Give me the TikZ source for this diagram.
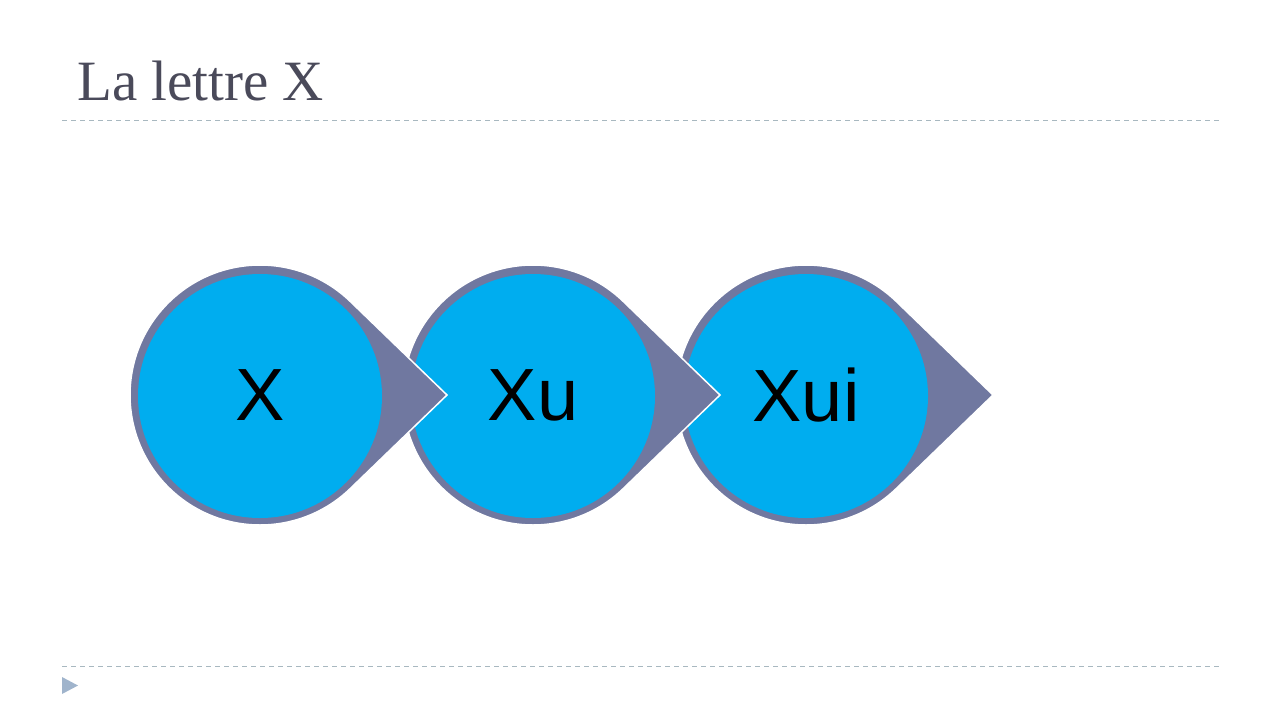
\documentclass[tikz,border=0pt]{standalone}
\usepackage{fontspec}
\setmainfont{Liberation Serif}
\setsansfont{Liberation Sans}
\definecolor{dropgrey}{HTML}{7078A0}
\definecolor{dropblue}{HTML}{00ADEF}
\definecolor{rulegrey}{HTML}{A8B8C0}
\definecolor{titlegrey}{HTML}{4A4A5A}
\definecolor{markblue}{HTML}{A0B4CC}
\tikzset{
  drop/.style={fill=dropgrey,draw=white,line width=1.5pt},
  inner/.style={fill=dropblue},
  word/.style={font=\sffamily\fontsize{74}{74}\selectfont,text=black},
  rule/.style={rulegrey,dash pattern=on 5pt off 4pt,line width=1pt}
}
\begin{document}
\begin{tikzpicture}[x=1pt,y=-1pt]
\useasboundingbox (0,0) rectangle (1284,720);

\node[anchor=base west,text=titlegrey,font=\fontsize{57}{57}\selectfont,inner sep=0pt] (title) at (77,100) {La lettre X};

\draw[rule] (62,120) -- (1222,120);
\draw[rule] (62,666) -- (1222,666);
\fill[markblue] (62,677) -- (78,685.5) -- (62,694) -- cycle;

% drops, right one first
\foreach \cx/\name/\txt in {806/c/Xui,533/b/Xu,260/a/X}{
  \draw[drop] (\cx,395) ++(-46:130) arc[start angle=-46,end angle=-314,radius=130]
       -- (\cx+187,395) -- cycle;
  \fill[inner] (\cx,396) circle[radius=122];
  \node[word] (\name) at (\cx,395) {\txt};
}
\end{tikzpicture}
\end{document}
